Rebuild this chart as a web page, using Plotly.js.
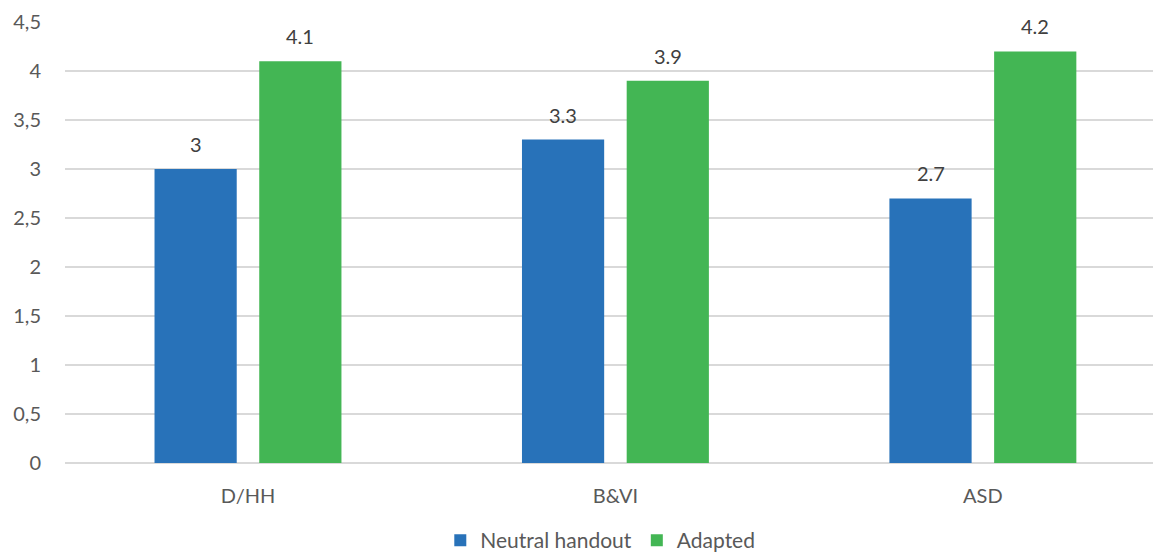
<!DOCTYPE html>
<html>
<head>
<meta charset="utf-8">
<script src="https://cdn.plot.ly/plotly-3.0.1.min.js"></script>
<style>html,body{margin:0;padding:0;background:#fff;overflow:hidden}#chart{width:1153px;height:557px}</style>
</head>
<body>
<div id="chart"></div>
<script>
const categories = ["D/HH", "B&VI", "ASD"];
const neutralValues = [3, 3.3, 2.7];
const adaptedValues = [4.1, 3.9, 4.2];
const seriesNames = ["Neutral handout", "Adapted"];
const yTickVals = [0, 0.5, 1, 1.5, 2, 2.5, 3, 3.5, 4, 4.5];
const yTickText = ["0", "0,5", "1", "1,5", "2", "2,5", "3", "3,5", "4", "4,5"];

const fontFam = "Lato, 'Open Sans', sans-serif";
const textColor = "#595959";
const labelColor = "#404040";

const W = 1153, H = 557;
const margin = {l: 65, r: 0, t: 22, b: 94, autoexpand: false};
const xRange = [-0.498, 2.463];
const bargap = 0.43;
const colors = ["#2872B9", "#43B654"];

const traces = [
  {
    type: "bar", name: seriesNames[0], x: categories, y: neutralValues,
    marker: {color: colors[0]}, hoverinfo: "x+y"
  },
  {
    type: "bar", name: seriesNames[1], x: categories, y: adaptedValues,
    marker: {color: colors[1]}, hoverinfo: "x+y"
  }
];

// data labels placed above each bar, offset within the group derived from layout
const plotW = W - margin.l - margin.r;
const catPx = plotW / (xRange[1] - xRange[0]);
const slotPx = (1 - bargap) * catPx / 2;
const annotations = [];
[neutralValues, adaptedValues].forEach((vals, si) => {
  vals.forEach((v, i) => {
    annotations.push({
      x: categories[i], y: v, xref: "x", yref: "y",
      text: String(v), showarrow: false,
      xanchor: "center", yanchor: "middle",
      xshift: (si === 0 ? -0.5 : 0.5) * slotPx, yshift: 25,
      font: {family: fontFam, size: 20, color: labelColor}
    });
  });
});

const layout = {
  width: W, height: H,
  margin: margin,
  paper_bgcolor: "#ffffff", plot_bgcolor: "#ffffff",
  font: {family: fontFam, size: 20, color: textColor},
  barmode: "group",
  bargap: bargap,
  bargroupgap: 0.215,
  xaxis: {
    type: "category",
    range: xRange,
    showgrid: false, zeroline: false, showline: false,
    ticks: "", tickfont: {family: fontFam, size: 20, color: textColor},
    ticklabelstandoff: 19
  },
  yaxis: {
    range: [0, 4.5],
    tickvals: yTickVals, ticktext: yTickText,
    showgrid: true, gridcolor: "#d9d9d9", gridwidth: 1.5,
    zeroline: true, zerolinecolor: "#d9d9d9", zerolinewidth: 1.5,
    showline: false, ticks: "",
    tickfont: {family: fontFam, size: 20, color: textColor},
    ticklabelstandoff: 23
  },
  annotations: annotations,
  showlegend: true,
  legend: {
    orientation: "h", x: 0.492, xanchor: "center", y: -0.176, yanchor: "middle",
    font: {family: fontFam, size: 21, color: textColor},
    itemwidth: 30, traceorder: "normal"
  }
};

Plotly.newPlot("chart", traces, layout, {displayModeBar: false, staticPlot: true});
</script>
</body>
</html>
